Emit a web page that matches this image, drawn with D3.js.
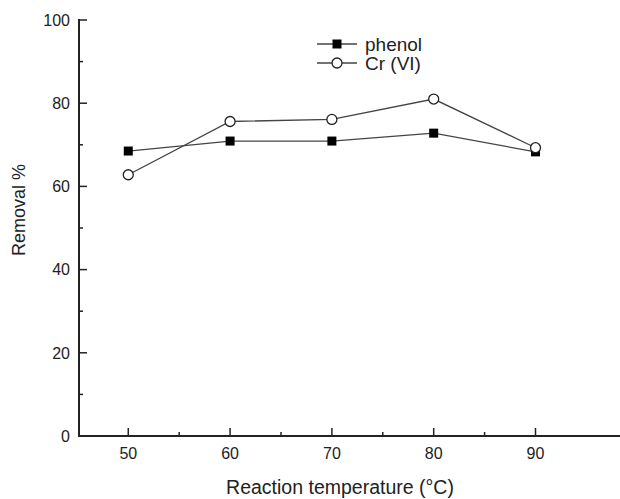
<!DOCTYPE html>
<html>
<head>
<meta charset="utf-8">
<script src="https://cdn.jsdelivr.net/npm/d3@7"></script>
<style>
  body { margin: 0; background: #fff; }
  svg { display: block; font-family: 'Liberation Sans', Arial, sans-serif; }
</style>
</head>
<body>
<svg id="chart" width="620" height="499"></svg>
<script>
const temps = [50, 60, 70, 80, 90]
const phenol = [68.5, 70.9, 70.9, 72.8, 68.3]
const chromium = [62.8, 75.6, 76.1, 81.0, 69.3]
const xTicks = [50, 60, 70, 80, 90]
const yTicks = [0, 20, 40, 60, 80, 100]

const svg = d3.select('#chart')
const ink = '#222'

// axis placement
const x = d3.scaleLinear().domain([45.16, 98.3]).range([79, 620])
const y = d3.scaleLinear().domain([0, 100]).range([436, 20])

// y axis: ticks point inward
const yAxis = svg.append('g').attr('transform', 'translate(79,0)')
yAxis.append('line').attr('y1', y(0)).attr('y2', y(100) - 1)
  .attr('stroke', ink).attr('stroke-width', 2)
yAxis.selectAll('.major').data(yTicks).join('line')
  .attr('x1', 0).attr('x2', 8).attr('y1', d => y(d)).attr('y2', d => y(d))
  .attr('stroke', ink).attr('stroke-width', 1.5)
yAxis.selectAll('.minor').data(d3.range(10, 100, 20)).join('line')
  .attr('x1', 0).attr('x2', 4).attr('y1', d => y(d)).attr('y2', d => y(d))
  .attr('stroke', ink).attr('stroke-width', 1.5)
yAxis.selectAll('text').data(yTicks).join('text')
  .attr('x', -9).attr('y', d => y(d)).attr('dy', '0.36em')
  .attr('text-anchor', 'end').attr('font-size', 16).attr('fill', ink)
  .text(d => d)

// x axis
const xAxis = svg.append('g')
xAxis.append('line').attr('x1', 78).attr('x2', 620).attr('y1', y(0)).attr('y2', y(0))
  .attr('stroke', ink).attr('stroke-width', 2)
xAxis.selectAll('.major').data(xTicks).join('line')
  .attr('x1', d => x(d)).attr('x2', d => x(d)).attr('y1', y(0)).attr('y2', y(0) - 8)
  .attr('stroke', ink).attr('stroke-width', 1.5)
xAxis.selectAll('.minor').data([55, 65, 75, 85]).join('line')
  .attr('x1', d => x(d)).attr('x2', d => x(d)).attr('y1', y(0)).attr('y2', y(0) - 4)
  .attr('stroke', ink).attr('stroke-width', 1.5)
xAxis.selectAll('text').data(xTicks).join('text')
  .attr('x', d => x(d)).attr('y', y(0) + 23)
  .attr('text-anchor', 'middle').attr('font-size', 16).attr('fill', ink)
  .text(d => d)

svg.append('text').attr('x', 340).attr('y', 494)
  .attr('text-anchor', 'middle').attr('font-size', 19.5).attr('fill', ink)
  .text('Reaction temperature (°C)')
svg.append('text')
  .attr('transform', 'translate(25,210) rotate(-90)')
  .attr('text-anchor', 'middle').attr('font-size', 18).attr('fill', ink)
  .text('Removal %')

const line = d3.line().x(d => x(d[0])).y(d => y(d[1]))

const series = [
  { name: 'phenol', values: phenol, shape: 'square' },
  { name: 'Cr (VI)', values: chromium, shape: 'circle' }
]

function marker (sel, shape) {
  if (shape === 'square') {
    sel.append('rect').attr('x', -4.5).attr('y', -4.5).attr('width', 9).attr('height', 9)
      .attr('fill', '#000')
  } else {
    sel.append('circle').attr('r', 5)
      .attr('fill', '#fff').attr('stroke', ink).attr('stroke-width', 1.3)
  }
}

series.forEach(s => {
  const pts = temps.map((t, i) => [t, s.values[i]])
  svg.append('path').datum(pts).attr('d', line)
    .attr('fill', 'none').attr('stroke', '#444').attr('stroke-width', 1.3)
  pts.forEach(p => {
    const g = svg.append('g').attr('transform', `translate(${x(p[0])},${y(p[1])})`)
    marker(g, s.shape)
  })
})

// legend
const legend = svg.append('g')
series.forEach((s, i) => {
  const ly = 44 + i * 19
  legend.append('line').attr('x1', 317).attr('x2', 357).attr('y1', ly).attr('y2', ly)
    .attr('stroke', '#444').attr('stroke-width', 1.3)
  marker(legend.append('g').attr('transform', `translate(337,${ly})`), s.shape)
  legend.append('text').attr('x', 365).attr('y', ly).attr('dy', '0.36em')
    .attr('font-size', 19).attr('fill', ink).text(s.name)
})
</script>
</body>
</html>
